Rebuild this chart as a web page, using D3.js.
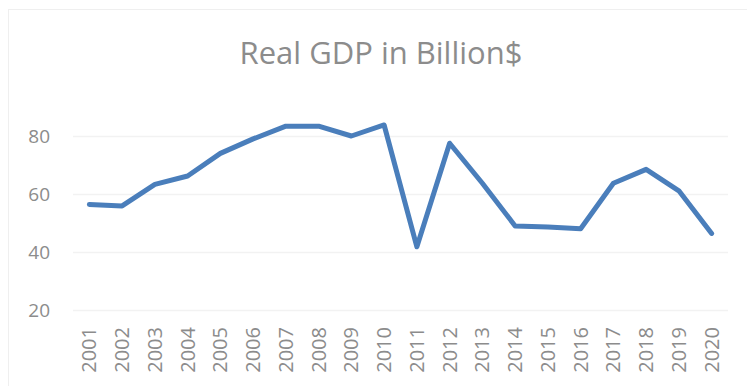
<!DOCTYPE html>
<html><head><meta charset="utf-8">
<script src="https://cdn.jsdelivr.net/npm/d3@7"></script>
<style>body{margin:0;background:#fff}</style>
</head><body>
<svg id="c" width="747" height="386"></svg>
<script>
const years = ["2001","2002","2003","2004","2005","2006","2007","2008","2009","2010","2011","2012","2013","2014","2015","2016","2017","2018","2019","2020"];
const gdp = [56.4,55.9,63.3,66.2,74.0,79.0,83.4,83.4,80.0,83.8,41.8,77.5,63.7,49.0,48.6,48.0,63.7,68.5,61.1,46.4];
const yTicks = [20,40,60,80];
const title = "Real GDP in Billion$";

const svg = d3.select("#c");
const font = "'Open Sans', 'Liberation Sans', sans-serif";
const grey = "#8c8c8c";

// chart border
svg.append("rect").attr("x",8.5).attr("y",9.5).attr("width",760).attr("height",400)
  .attr("fill","none").attr("stroke","#efefef").attr("stroke-width",1);

const x = d3.scaleBand().domain(years).range([73,728]);
const y = d3.scaleLinear().domain([20,80]).range([310,136]);

const gy = svg.append("g").attr("transform","translate(73,0)")
  .call(d3.axisLeft(y).tickValues(yTicks).tickSize(-655).tickPadding(23));
gy.select(".domain").remove();
gy.selectAll(".tick line").attr("stroke","#f2f2f2").attr("stroke-width",1.5);
gy.selectAll(".tick text").attr("fill",grey).style("font-family",font).style("font-size","19px");

const gx = svg.append("g").attr("transform","translate(0,310)")
  .call(d3.axisBottom(x).tickSize(0).tickPadding(0));
gx.select(".domain").remove();
gx.selectAll(".tick text").attr("fill",grey).style("font-family",font).style("font-size","20px")
  .attr("transform","rotate(-90)").attr("text-anchor","end").attr("dy","0.35em").attr("x",-17).attr("y",0);

const line = d3.line().x((d,i)=>x(years[i])+x.bandwidth()/2).y(d=>y(d));
svg.append("path").datum(gdp).attr("d",line).attr("fill","none")
  .attr("stroke","#4a7ebb").attr("stroke-width",5).attr("stroke-linejoin","round").attr("stroke-linecap","round");

svg.append("text").attr("x",381).attr("y",64).attr("text-anchor","middle")
  .attr("fill",grey).style("font-family",font).style("font-size","31px").text(title);
</script>
</body></html>
